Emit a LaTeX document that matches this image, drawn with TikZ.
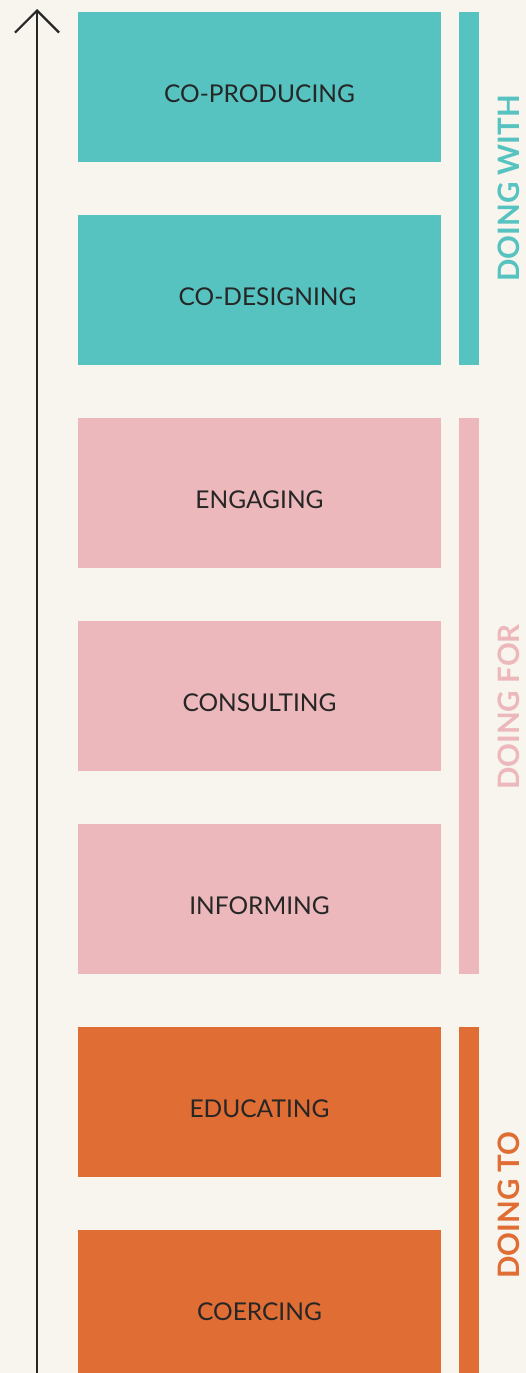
\documentclass[tikz,border=0pt]{standalone}
\usepackage{fontspec}
\setmainfont{Lato}
\usetikzlibrary{arrows.meta}
\definecolor{bg_cream}{HTML}{F7F5EE}
\definecolor{c_with}{HTML}{56C3C1}
\definecolor{c_for}{HTML}{EDB8BB}
\definecolor{c_to}{HTML}{E06D34}
\definecolor{c_ink}{HTML}{262626}
\tikzset{
  x=1pt, y=-1pt,
  stage/.style = {rectangle, inner sep=0pt, minimum width=363pt, minimum height=150pt,
    text=c_ink, font=\fontsize{24.5}{26}\selectfont, text height=30pt, text depth=0pt},
  stg_with/.style = {stage, fill=c_with},
  stg_for/.style = {stage, fill=c_for},
  stg_to/.style = {stage, fill=c_to},
  band/.style = {rectangle, inner sep=0pt, minimum width=20pt},
  band_lbl/.style = {rotate=90, inner sep=0pt, font=\bfseries\fontsize{29.5}{30}\selectfont}
}

\begin{document}
\begin{tikzpicture}
\fill[bg_cream] (0,0) rectangle (526,1373);
\useasboundingbox (0,0) rectangle (526,1373);

% the seven stages, top to bottom
\node [stg_with] (coprod) at (259.5,87)   {CO-PRODUCING};
\node [stg_with] (codes)  at (259.5,290)  {\hspace*{16pt}CO-DESIGNING};
\node [stg_for]  (engag)  at (259.5,493)  {ENGAGING};
\node [stg_for]  (consul) at (259.5,696)  {CONSULTING};
\node [stg_for]  (inform) at (259.5,899)  {INFORMING};
\node [stg_to]   (educ)   at (259.5,1102) {EDUCATING};
\node [stg_to]   (coerc)  at (259.5,1305) {COERCING};

% side bands with their labels
\node [band, fill=c_with, minimum height=353pt] (b_with) at (469,188.5) {};
\node [band, fill=c_for,  minimum height=556pt] (b_for)  at (469,696)   {};
\node [band, fill=c_to,   minimum height=360pt] (b_to)   at (469,1207)  {};
\node [band_lbl, text=c_with] (l_with) at (509,188.5) {DOING WITH};
\node [band_lbl, text=c_for]  (l_for)  at (509,707)   {DOING FOR};
\node [band_lbl, text=c_to]   (l_to)   at (509,1205)  {DOING TO};

% upward axis
\coordinate (ax_base) at (37,1380);
\coordinate (ax_tip)  at (37,9);
\draw [c_ink, line width=2.2pt, -{Straight Barb[length=22pt,width=44pt,line width=2.2pt]}] (ax_base) -- (ax_tip);
\end{tikzpicture}
\end{document}
